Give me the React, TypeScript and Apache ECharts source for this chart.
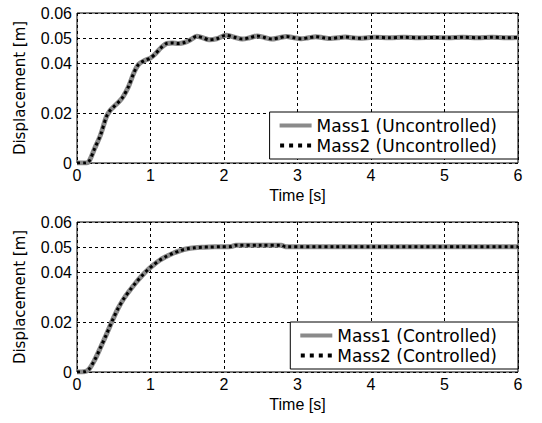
import React, { useEffect, useRef } from "react";
import * as echarts from "echarts";

// Uncontrolled response (top panel)
const uncTime = [
  0, 0.1, 0.16, 0.24, 0.32, 0.4, 0.45, 0.5, 0.56, 0.62,
  0.7, 0.78, 0.84, 0.92, 1.0, 1.07, 1.14, 1.22, 1.3, 1.38,
  1.46, 1.54, 1.63, 1.7, 1.8, 1.9, 2.03, 2.14, 2.25, 2.35,
  2.45, 2.55, 2.65, 2.75, 2.85, 2.95, 3.05, 3.15, 3.25, 3.35,
  3.45, 3.55, 3.65, 3.75, 3.85, 3.95, 4.05, 4.25, 4.45, 4.65,
  4.85, 5.05, 5.25, 5.45, 5.65, 5.85, 6.0,
];
const uncMass1 = [
  0, 0, 0.0005, 0.0058, 0.0112, 0.0185, 0.021, 0.0225, 0.0242, 0.0262,
  0.0305, 0.0365, 0.0395, 0.041, 0.042, 0.0438, 0.046, 0.0478, 0.048, 0.0478,
  0.0482, 0.0492, 0.0507, 0.0502, 0.0493, 0.0497, 0.0511, 0.0503, 0.0496, 0.0501,
  0.0508, 0.0502, 0.0496, 0.0501, 0.0506, 0.0501, 0.0497, 0.0501, 0.0505, 0.0501,
  0.0498, 0.0501, 0.0504, 0.0501, 0.0499, 0.0501, 0.0503, 0.0501, 0.0503, 0.0501,
  0.0502, 0.0501, 0.0503, 0.0501, 0.0503, 0.0501, 0.0502,
];
const uncMass2 = [
  0, 0, 0.0005, 0.0058, 0.0112, 0.0185, 0.021, 0.0225, 0.0242, 0.0262,
  0.0305, 0.0365, 0.0395, 0.041, 0.042, 0.0438, 0.046, 0.0478, 0.048, 0.0478,
  0.0482, 0.0492, 0.0507, 0.0502, 0.0493, 0.0497, 0.0511, 0.0503, 0.0496, 0.0501,
  0.0508, 0.0502, 0.0496, 0.0501, 0.0506, 0.0501, 0.0497, 0.0501, 0.0505, 0.0501,
  0.0498, 0.0501, 0.0504, 0.0501, 0.0499, 0.0501, 0.0503, 0.0501, 0.0503, 0.0501,
  0.0502, 0.0501, 0.0503, 0.0501, 0.0503, 0.0501, 0.0502,
];

// Controlled response (bottom panel)
const ctrlTime = [
  0, 0.1, 0.16, 0.24, 0.32, 0.4, 0.48, 0.56, 0.64, 0.72,
  0.8, 0.88, 0.96, 1.04, 1.12, 1.2, 1.3, 1.4, 1.5, 1.6,
  1.7, 1.8, 1.95, 2.1, 2.16, 2.5, 2.78, 2.84, 3.5, 4,
  5, 6,
];
const ctrlMass1 = [
  0, 0.0001, 0.001, 0.0048, 0.0098, 0.015, 0.0205, 0.0255, 0.0295, 0.0327,
  0.0357, 0.0384, 0.0408, 0.0428, 0.0446, 0.046, 0.0474, 0.0485, 0.0493, 0.0497,
  0.0499, 0.05, 0.0501, 0.0502, 0.0507, 0.0507, 0.0507, 0.0501, 0.0501, 0.0501,
  0.0501, 0.0501,
];
const ctrlMass2 = [
  0, 0.0001, 0.001, 0.0048, 0.0098, 0.015, 0.0205, 0.0255, 0.0295, 0.0327,
  0.0357, 0.0384, 0.0408, 0.0428, 0.0446, 0.046, 0.0474, 0.0485, 0.0493, 0.0497,
  0.0499, 0.05, 0.0501, 0.0502, 0.0507, 0.0507, 0.0507, 0.0501, 0.0501, 0.0501,
  0.0501, 0.0501,
];

const yTicks = [0, 0.02, 0.04, 0.05, 0.06];
const xMin = 0;
const xMax = 6;
const xStep = 1;
const yName = "Displacement [m]";
const xName = "Time [s]";
const legendTop = ["Mass1 (Uncontrolled)", "Mass2 (Uncontrolled)"];
const legendBottom = ["Mass1 (Controlled)", "Mass2 (Controlled)"];

const FONT = "Liberation Sans";
const WIDE_FONT = "DejaVu Sans";
const GRAY = "#8a8a8a";
const BLACK = "#000000";
const SOLID_ICON = "path://M0,0H32V4H0Z";
const DOT_ICON = "path://M0,0H4V4H0Z M9,0H13V4H9Z M18,0H22V4H18Z M27,0H31V4H27Z";

const zip = (t: number[], v: number[]) => t.map((x, i) => [x, v[i]]);

function xAxis(gridIndex: number) {
  return {
    type: "value",
    gridIndex,
    min: xMin,
    max: xMax,
    interval: xStep,
    name: xName,
    nameLocation: "middle",
    nameGap: 24,
    nameTextStyle: { color: BLACK, fontSize: 16, fontFamily: FONT },
    axisLine: { show: false },
    axisTick: { show: false },
    axisLabel: { color: BLACK, fontSize: 16, fontFamily: FONT, margin: 4 },
    splitLine: { show: true, lineStyle: { color: BLACK, width: 1, type: [3, 3] } },
  };
}

function yAxis(gridIndex: number) {
  return {
    type: "value",
    gridIndex,
    min: 0,
    max: 0.06,
    name: yName,
    nameLocation: "middle",
    nameGap: 50,
    nameTextStyle: { color: BLACK, fontSize: 15, fontFamily: WIDE_FONT },
    axisLine: { show: false },
    axisTick: { show: false, customValues: yTicks },
    axisLabel: {
      color: BLACK,
      fontSize: 16,
      fontFamily: FONT,
      margin: 5,
      customValues: yTicks,
      formatter: (v: number) => (v === 0 ? "0" : v.toFixed(2)),
    },
    splitLine: { show: true, lineStyle: { color: BLACK, width: 1, type: [3, 3] } },
  };
}

function legend(top: number, names: string[]) {
  return {
    orient: "vertical",
    right: 24,
    top,
    padding: [5, 21, 5, 10],
    itemGap: 3,
    itemWidth: 32,
    itemHeight: 4,
    itemTextGap: 11,
    backgroundColor: "#ffffff",
    borderColor: BLACK,
    borderWidth: 1,
    borderRadius: 0,
    textStyle: { color: BLACK, fontSize: 17, fontFamily: WIDE_FONT },
    data: [
      { name: names[0], icon: SOLID_ICON },
      { name: names[1], icon: DOT_ICON },
    ],
  };
}

function lineSeries(name: string, idx: number, data: number[][], dotted: boolean) {
  return {
    type: "line",
    name,
    xAxisIndex: idx,
    yAxisIndex: idx,
    data,
    showSymbol: false,
    symbol: "none",
    smooth: 0.3,
    color: dotted ? BLACK : GRAY,
    itemStyle: { color: dotted ? BLACK : GRAY },
    lineStyle: dotted
      ? { color: BLACK, width: 3, type: [3, 3], cap: "butt" }
      : { color: GRAY, width: 5 },
    z: dotted ? 3 : 2,
  };
}

export default function App() {
  const ref = useRef<HTMLDivElement>(null);
  useEffect(() => {
    document.body.style.margin = "0";
    if (!ref.current) return;
    const chart = echarts.init(ref.current, undefined, { renderer: "svg" });
    chart.setOption({
      animation: false,
      backgroundColor: "#ffffff",
      grid: [
        { left: 77, right: 24, top: 13, height: 150, show: true, borderColor: BLACK, borderWidth: 1, backgroundColor: "transparent", outerBoundsMode: "none" },
        { left: 77, right: 24, top: 222, height: 150, show: true, borderColor: BLACK, borderWidth: 1, backgroundColor: "transparent", outerBoundsMode: "none" },
      ],
      xAxis: [xAxis(0), xAxis(1)],
      yAxis: [yAxis(0), yAxis(1)],
      legend: [legend(112, legendTop), legend(322, legendBottom)],
      series: [
        lineSeries(legendTop[0], 0, zip(uncTime, uncMass1), false),
        lineSeries(legendTop[1], 0, zip(uncTime, uncMass2), true),
        lineSeries(legendBottom[0], 1, zip(ctrlTime, ctrlMass1), false),
        lineSeries(legendBottom[1], 1, zip(ctrlTime, ctrlMass2), true),
      ],
    });
    return () => chart.dispose();
  }, []);
  return <div ref={ref} style={{ width: 542, height: 423 }} />;
}
